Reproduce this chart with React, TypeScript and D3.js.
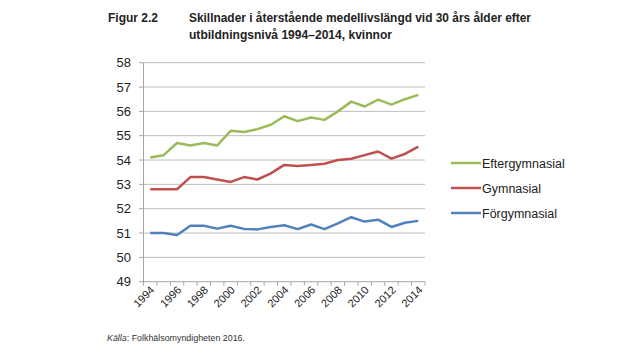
import React, { useEffect, useRef } from 'react';
import * as d3 from 'd3';

const years = d3.range(1994, 2015).map(String);
const yTicks = [49, 50, 51, 52, 53, 54, 55, 56, 57, 58];
const xLabels = ['1994', '1996', '1998', '2000', '2002', '2004', '2006', '2008', '2010', '2012', '2014'];

const eftergymnasial = [54.1, 54.2, 54.7, 54.6, 54.7, 54.6, 55.2, 55.15, 55.27, 55.45, 55.8, 55.6, 55.75, 55.65, 56.0, 56.4, 56.2, 56.48, 56.28, 56.5, 56.68];
const gymnasial = [52.8, 52.8, 52.8, 53.3, 53.3, 53.2, 53.1, 53.3, 53.2, 53.45, 53.8, 53.75, 53.8, 53.85, 54.0, 54.05, 54.2, 54.35, 54.06, 54.25, 54.55];
const forgymnasial = [51.0, 51.0, 50.92, 51.3, 51.3, 51.18, 51.3, 51.17, 51.15, 51.25, 51.32, 51.16, 51.35, 51.16, 51.4, 51.65, 51.47, 51.55, 51.25, 51.42, 51.5];

const seriesNames = ['Eftergymnasial', 'Gymnasial', 'Förgymnasial'];
const seriesColors = ['#9BBB59', '#C0504D', '#4F81BD'];
const seriesValues = [eftergymnasial, gymnasial, forgymnasial];

const W = 625;
const H = 353;
const FONT = '"Liberation Sans", Arial, sans-serif';
const NARROW = '"Liberation Sans Narrow", "Liberation Sans", Arial, sans-serif';

export default function App() {
  const svgRef = useRef<SVGSVGElement>(null);

  useEffect(() => {
    if (!svgRef.current) return;
    const svg = d3.select(svgRef.current);
    svg.selectAll('*').remove();

    svg.append('rect').attr('width', W).attr('height', H).attr('fill', '#fff');

    // Title
    const title = (txt: string, tx: number, ty: number, len: number) =>
      svg.append('text')
        .attr('x', tx).attr('y', ty)
        .attr('font-family', NARROW).attr('font-weight', 'bold').attr('font-size', 12.5)
        .attr('fill', '#222')
        .attr('textLength', len).attr('lengthAdjust', 'spacingAndGlyphs')
        .text(txt);
    title('Figur 2.2', 108, 22, 50);
    title('Skillnader i återstående medellivslängd vid 30 års ålder efter', 189, 22, 342);
    title('utbildningsnivå 1994–2014, kvinnor', 189, 39, 203);

    const x = d3.scaleBand<string>().domain(years).range([143.5, 425]);
    const y = d3.scaleLinear().domain([49, 58]).range([281.7, 62.7]);
    const cx = (d: string) => (x(d) ?? 0) + x.bandwidth() / 2;

    const g = svg.append('g');

    // Gridlines
    g.selectAll('line.grid')
      .data(yTicks.slice(1))
      .join('line')
      .attr('class', 'grid')
      .attr('x1', 143.5).attr('x2', 425)
      .attr('y1', d => y(d)).attr('y2', d => y(d))
      .attr('stroke', '#BDBDBD').attr('stroke-width', 1);

    // Y axis
    g.append('line')
      .attr('x1', 143.5).attr('x2', 143.5)
      .attr('y1', y(58)).attr('y2', y(49))
      .attr('stroke', '#A6A6A6');
    g.selectAll('line.ytick')
      .data(yTicks)
      .join('line')
      .attr('class', 'ytick')
      .attr('x1', 139).attr('x2', 143.5)
      .attr('y1', d => y(d)).attr('y2', d => y(d))
      .attr('stroke', '#A6A6A6');
    g.selectAll('text.ylab')
      .data(yTicks)
      .join('text')
      .attr('class', 'ylab')
      .attr('x', 131).attr('y', d => y(d) + 4.5)
      .attr('text-anchor', 'end')
      .attr('font-family', FONT).attr('font-size', 13)
      .attr('fill', '#222')
      .text(d => String(d));

    // X axis
    g.append('line')
      .attr('x1', 143.5).attr('x2', 425)
      .attr('y1', y(49)).attr('y2', y(49))
      .attr('stroke', '#A6A6A6');
    const boundaries = years.map(d => x(d) ?? 0).concat([425]);
    g.selectAll('line.xtick')
      .data(boundaries)
      .join('line')
      .attr('class', 'xtick')
      .attr('x1', d => d).attr('x2', d => d)
      .attr('y1', y(49)).attr('y2', y(49) + 4)
      .attr('stroke', '#A6A6A6');
    g.selectAll('text.xlab')
      .data(xLabels)
      .join('text')
      .attr('class', 'xlab')
      .attr('transform', d => `translate(${cx(d) + 5},${y(49) + 9}) rotate(-45)`)
      .attr('text-anchor', 'end')
      .attr('font-family', FONT).attr('font-size', 11)
      .attr('fill', '#222')
      .text(d => d);

    // Lines
    const line = d3.line<number>()
      .x((_, i) => cx(years[i]))
      .y(d => y(d));
    seriesValues.forEach((vals, i) => {
      g.append('path')
        .datum(vals)
        .attr('fill', 'none')
        .attr('stroke', seriesColors[i])
        .attr('stroke-width', 2.5)
        .attr('stroke-linejoin', 'round')
        .attr('d', line);
    });

    // Legend
    const legendY = [163, 188, 213];
    seriesNames.forEach((name, i) => {
      g.append('line')
        .attr('x1', 451).attr('x2', 481)
        .attr('y1', legendY[i]).attr('y2', legendY[i])
        .attr('stroke', seriesColors[i]).attr('stroke-width', 2.5);
      g.append('text')
        .attr('x', 482).attr('y', legendY[i] + 4.5)
        .attr('font-family', FONT).attr('font-size', 12.5)
        .attr('fill', '#222')
        .text(name);
    });

    // Source
    const src = svg.append('text')
      .attr('x', 107).attr('y', 341)
      .attr('font-family', NARROW).attr('font-size', 9)
      .attr('fill', '#333')
      .attr('textLength', 138).attr('lengthAdjust', 'spacingAndGlyphs');
    src.append('tspan').attr('font-style', 'italic').text('Källa');
    src.append('tspan').text(': Folkhälsomyndigheten 2016.');
  }, []);

  return (
    <svg
      ref={svgRef}
      width={W}
      height={H}
      style={{ position: 'absolute', left: 0, top: 0, display: 'block' }}
    />
  );
}
